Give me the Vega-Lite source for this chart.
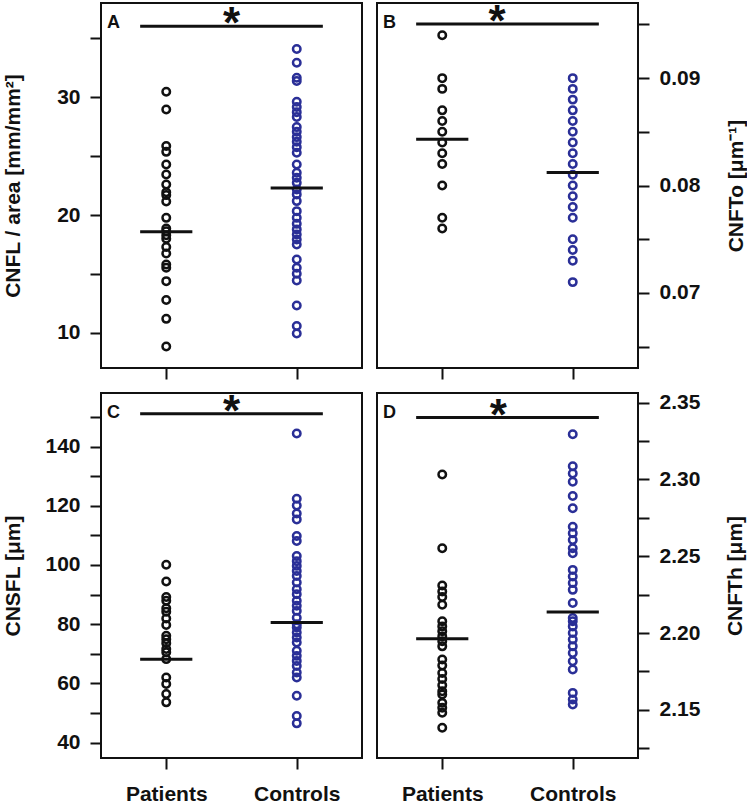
{
  "$schema": "https://vega.github.io/schema/vega-lite/v6.json",
  "background": "white",
  "padding": {"left": 1, "top": 0, "right": 0, "bottom": 0},
  "columns": 2,
  "spacing": {"row": 8, "column": 13},
  "datasets": {
    "points": [
      {"panel":"A","group":"Patients","x":1,"y":30.47},{"panel":"A","group":"Patients","x":1,"y":28.97},{"panel":"A","group":"Patients","x":1,"y":25.86},{"panel":"A","group":"Patients","x":1,"y":25.37},{"panel":"A","group":"Patients","x":1,"y":24.3},{"panel":"A","group":"Patients","x":1,"y":23.45},{"panel":"A","group":"Patients","x":1,"y":22.6},{"panel":"A","group":"Patients","x":1,"y":21.95},{"panel":"A","group":"Patients","x":1,"y":21.7},{"panel":"A","group":"Patients","x":1,"y":21.15},{"panel":"A","group":"Patients","x":1,"y":19.77},{"panel":"A","group":"Patients","x":1,"y":18.87},{"panel":"A","group":"Patients","x":1,"y":18.64},{"panel":"A","group":"Patients","x":1,"y":18.3},{"panel":"A","group":"Patients","x":1,"y":18.0},{"panel":"A","group":"Patients","x":1,"y":17.3},{"panel":"A","group":"Patients","x":1,"y":16.75},{"panel":"A","group":"Patients","x":1,"y":15.81},{"panel":"A","group":"Patients","x":1,"y":15.53},{"panel":"A","group":"Patients","x":1,"y":14.4},{"panel":"A","group":"Patients","x":1,"y":12.8},{"panel":"A","group":"Patients","x":1,"y":11.2},{"panel":"A","group":"Patients","x":1,"y":8.85},
      {"panel":"A","group":"Controls","x":2,"y":34.1},{"panel":"A","group":"Controls","x":2,"y":32.93},{"panel":"A","group":"Controls","x":2,"y":31.66},{"panel":"A","group":"Controls","x":2,"y":31.38},{"panel":"A","group":"Controls","x":2,"y":29.62},{"panel":"A","group":"Controls","x":2,"y":29.17},{"panel":"A","group":"Controls","x":2,"y":28.74},{"panel":"A","group":"Controls","x":2,"y":28.32},{"panel":"A","group":"Controls","x":2,"y":27.47},{"panel":"A","group":"Controls","x":2,"y":27.07},{"panel":"A","group":"Controls","x":2,"y":26.62},{"panel":"A","group":"Controls","x":2,"y":26.22},{"panel":"A","group":"Controls","x":2,"y":25.77},{"panel":"A","group":"Controls","x":2,"y":25.29},{"panel":"A","group":"Controls","x":2,"y":24.3},{"panel":"A","group":"Controls","x":2,"y":23.59},{"panel":"A","group":"Controls","x":2,"y":23.17},{"panel":"A","group":"Controls","x":2,"y":22.74},{"panel":"A","group":"Controls","x":2,"y":22.18},{"panel":"A","group":"Controls","x":2,"y":21.76},{"panel":"A","group":"Controls","x":2,"y":21.19},{"panel":"A","group":"Controls","x":2,"y":20.34},{"panel":"A","group":"Controls","x":2,"y":19.77},{"panel":"A","group":"Controls","x":2,"y":19.26},{"panel":"A","group":"Controls","x":2,"y":18.79},{"panel":"A","group":"Controls","x":2,"y":18.36},{"panel":"A","group":"Controls","x":2,"y":17.94},{"panel":"A","group":"Controls","x":2,"y":17.51},{"panel":"A","group":"Controls","x":2,"y":16.24},{"panel":"A","group":"Controls","x":2,"y":15.53},{"panel":"A","group":"Controls","x":2,"y":15.02},{"panel":"A","group":"Controls","x":2,"y":14.46},{"panel":"A","group":"Controls","x":2,"y":12.33},{"panel":"A","group":"Controls","x":2,"y":10.6},{"panel":"A","group":"Controls","x":2,"y":9.95},
      {"panel":"B","group":"Patients","x":1,"y":0.094},{"panel":"B","group":"Patients","x":1,"y":0.09},{"panel":"B","group":"Patients","x":1,"y":0.089},{"panel":"B","group":"Patients","x":1,"y":0.087},{"panel":"B","group":"Patients","x":1,"y":0.086},{"panel":"B","group":"Patients","x":1,"y":0.085},{"panel":"B","group":"Patients","x":1,"y":0.084},{"panel":"B","group":"Patients","x":1,"y":0.083},{"panel":"B","group":"Patients","x":1,"y":0.082},{"panel":"B","group":"Patients","x":1,"y":0.08},{"panel":"B","group":"Patients","x":1,"y":0.077},{"panel":"B","group":"Patients","x":1,"y":0.076},
      {"panel":"B","group":"Controls","x":2,"y":0.09},{"panel":"B","group":"Controls","x":2,"y":0.089},{"panel":"B","group":"Controls","x":2,"y":0.088},{"panel":"B","group":"Controls","x":2,"y":0.087},{"panel":"B","group":"Controls","x":2,"y":0.086},{"panel":"B","group":"Controls","x":2,"y":0.085},{"panel":"B","group":"Controls","x":2,"y":0.084},{"panel":"B","group":"Controls","x":2,"y":0.083},{"panel":"B","group":"Controls","x":2,"y":0.082},{"panel":"B","group":"Controls","x":2,"y":0.081},{"panel":"B","group":"Controls","x":2,"y":0.08},{"panel":"B","group":"Controls","x":2,"y":0.079},{"panel":"B","group":"Controls","x":2,"y":0.078},{"panel":"B","group":"Controls","x":2,"y":0.077},{"panel":"B","group":"Controls","x":2,"y":0.075},{"panel":"B","group":"Controls","x":2,"y":0.074},{"panel":"B","group":"Controls","x":2,"y":0.073},{"panel":"B","group":"Controls","x":2,"y":0.071},
      {"panel":"C","group":"Patients","x":1,"y":100.1},{"panel":"C","group":"Patients","x":1,"y":94.4},{"panel":"C","group":"Patients","x":1,"y":89.2},{"panel":"C","group":"Patients","x":1,"y":87.9},{"panel":"C","group":"Patients","x":1,"y":85.4},{"panel":"C","group":"Patients","x":1,"y":84.2},{"panel":"C","group":"Patients","x":1,"y":81.9},{"panel":"C","group":"Patients","x":1,"y":79.7},{"panel":"C","group":"Patients","x":1,"y":76.1},{"panel":"C","group":"Patients","x":1,"y":74.9},{"panel":"C","group":"Patients","x":1,"y":73.6},{"panel":"C","group":"Patients","x":1,"y":71.6},{"panel":"C","group":"Patients","x":1,"y":70.5},{"panel":"C","group":"Patients","x":1,"y":68.2},{"panel":"C","group":"Patients","x":1,"y":62.0},{"panel":"C","group":"Patients","x":1,"y":59.8},{"panel":"C","group":"Patients","x":1,"y":56.4},{"panel":"C","group":"Patients","x":1,"y":53.6},
      {"panel":"C","group":"Controls","x":2,"y":144.4},{"panel":"C","group":"Controls","x":2,"y":122.4},{"panel":"C","group":"Controls","x":2,"y":120.1},{"panel":"C","group":"Controls","x":2,"y":117.4},{"panel":"C","group":"Controls","x":2,"y":115.4},{"panel":"C","group":"Controls","x":2,"y":109.8},{"panel":"C","group":"Controls","x":2,"y":108.1},{"panel":"C","group":"Controls","x":2,"y":103.0},{"panel":"C","group":"Controls","x":2,"y":101.3},{"panel":"C","group":"Controls","x":2,"y":99.7},{"panel":"C","group":"Controls","x":2,"y":98.0},{"panel":"C","group":"Controls","x":2,"y":96.3},{"panel":"C","group":"Controls","x":2,"y":94.1},{"panel":"C","group":"Controls","x":2,"y":91.8},{"panel":"C","group":"Controls","x":2,"y":90.1},{"panel":"C","group":"Controls","x":2,"y":87.9},{"panel":"C","group":"Controls","x":2,"y":86.2},{"panel":"C","group":"Controls","x":2,"y":84.5},{"panel":"C","group":"Controls","x":2,"y":82.2},{"panel":"C","group":"Controls","x":2,"y":80.0},{"panel":"C","group":"Controls","x":2,"y":78.9},{"panel":"C","group":"Controls","x":2,"y":77.2},{"panel":"C","group":"Controls","x":2,"y":75.5},{"panel":"C","group":"Controls","x":2,"y":73.8},{"panel":"C","group":"Controls","x":2,"y":71.0},{"panel":"C","group":"Controls","x":2,"y":69.3},{"panel":"C","group":"Controls","x":2,"y":67.6},{"panel":"C","group":"Controls","x":2,"y":65.9},{"panel":"C","group":"Controls","x":2,"y":63.7},{"panel":"C","group":"Controls","x":2,"y":62.0},{"panel":"C","group":"Controls","x":2,"y":55.8},{"panel":"C","group":"Controls","x":2,"y":49.0},{"panel":"C","group":"Controls","x":2,"y":46.5},
      {"panel":"D","group":"Patients","x":1,"y":2.3032},{"panel":"D","group":"Patients","x":1,"y":2.2552},{"panel":"D","group":"Patients","x":1,"y":2.2309},{"panel":"D","group":"Patients","x":1,"y":2.227},{"panel":"D","group":"Patients","x":1,"y":2.2234},{"panel":"D","group":"Patients","x":1,"y":2.2184},{"panel":"D","group":"Patients","x":1,"y":2.2076},{"panel":"D","group":"Patients","x":1,"y":2.2043},{"panel":"D","group":"Patients","x":1,"y":2.2011},{"panel":"D","group":"Patients","x":1,"y":2.1978},{"panel":"D","group":"Patients","x":1,"y":2.1946},{"panel":"D","group":"Patients","x":1,"y":2.1913},{"panel":"D","group":"Patients","x":1,"y":2.1827},{"panel":"D","group":"Patients","x":1,"y":2.1788},{"panel":"D","group":"Patients","x":1,"y":2.174},{"panel":"D","group":"Patients","x":1,"y":2.1701},{"panel":"D","group":"Patients","x":1,"y":2.166},{"panel":"D","group":"Patients","x":1,"y":2.1621},{"panel":"D","group":"Patients","x":1,"y":2.1599},{"panel":"D","group":"Patients","x":1,"y":2.1545},{"panel":"D","group":"Patients","x":1,"y":2.1513},{"panel":"D","group":"Patients","x":1,"y":2.1481},{"panel":"D","group":"Patients","x":1,"y":2.1383},
      {"panel":"D","group":"Controls","x":2,"y":2.3294},{"panel":"D","group":"Controls","x":2,"y":2.3086},{"panel":"D","group":"Controls","x":2,"y":2.3039},{"panel":"D","group":"Controls","x":2,"y":2.2985},{"panel":"D","group":"Controls","x":2,"y":2.2892},{"panel":"D","group":"Controls","x":2,"y":2.2812},{"panel":"D","group":"Controls","x":2,"y":2.2692},{"panel":"D","group":"Controls","x":2,"y":2.2649},{"panel":"D","group":"Controls","x":2,"y":2.2606},{"panel":"D","group":"Controls","x":2,"y":2.2552},{"panel":"D","group":"Controls","x":2,"y":2.2519},{"panel":"D","group":"Controls","x":2,"y":2.2411},{"panel":"D","group":"Controls","x":2,"y":2.2368},{"panel":"D","group":"Controls","x":2,"y":2.2325},{"panel":"D","group":"Controls","x":2,"y":2.2281},{"panel":"D","group":"Controls","x":2,"y":2.2195},{"panel":"D","group":"Controls","x":2,"y":2.2097},{"panel":"D","group":"Controls","x":2,"y":2.2076},{"panel":"D","group":"Controls","x":2,"y":2.2043},{"panel":"D","group":"Controls","x":2,"y":2.2},{"panel":"D","group":"Controls","x":2,"y":2.1957},{"panel":"D","group":"Controls","x":2,"y":2.1913},{"panel":"D","group":"Controls","x":2,"y":2.187},{"panel":"D","group":"Controls","x":2,"y":2.1816},{"panel":"D","group":"Controls","x":2,"y":2.1762},{"panel":"D","group":"Controls","x":2,"y":2.161},{"panel":"D","group":"Controls","x":2,"y":2.1567},{"panel":"D","group":"Controls","x":2,"y":2.1534}
    ],
    "medians": [
      {"panel":"A","group":"Patients","x":0.8,"x2":1.2,"y":18.6},{"panel":"A","group":"Controls","x":1.8,"x2":2.2,"y":22.3},
      {"panel":"B","group":"Patients","x":0.8,"x2":1.2,"y":0.0843},{"panel":"B","group":"Controls","x":1.8,"x2":2.2,"y":0.0812},
      {"panel":"C","group":"Patients","x":0.8,"x2":1.2,"y":68.2},{"panel":"C","group":"Controls","x":1.8,"x2":2.2,"y":80.6},
      {"panel":"D","group":"Patients","x":0.8,"x2":1.2,"y":2.1963},{"panel":"D","group":"Controls","x":1.8,"x2":2.2,"y":2.2136}
    ],
    "sig": [
      {"panel":"A","x":0.8,"x2":2.2,"y":36.03},
      {"panel":"B","x":0.8,"x2":2.2,"y":0.09504},
      {"panel":"C","x":0.8,"x2":2.2,"y":151.1},
      {"panel":"D","x":0.8,"x2":2.2,"y":2.3403}
    ],
    "stars": [
      {"panel":"A","x":1.5,"y":36.03,"label":"*"},
      {"panel":"B","x":1.42,"y":0.09504,"label":"*"},
      {"panel":"C","x":1.5,"y":151.1,"label":"*"},
      {"panel":"D","x":1.43,"y":2.3403,"label":"*"}
    ],
    "letters": [
      {"panel":"A","label":"A","x":0.5,"y":38.0},
      {"panel":"B","label":"B","x":0.5,"y":0.0970},
      {"panel":"C","label":"C","x":0.5,"y":158.1},
      {"panel":"D","label":"D","x":0.5,"y":2.3563}
    ]
  },
  "concat": [
    {
      "width": 261, "height": 365,
      "encoding": {
        "x": {"field":"x","type":"quantitative","scale":{"domain":[0.5,2.5],"nice":false,"zero":false},"axis":{"values":[1,2],"labels":false,"title":null}},
        "y": {"field":"y","type":"quantitative","scale":{"domain":[7.03,38.0],"nice":false,"zero":false},"axis":{"orient":"left","values":[10,15,20,25,30,35],"labelExpr":"datum.value % 10 == 0 ? datum.label : ''","title":"CNFL / area [mm/mm²]","titleX":-88,"titleAngle":270,"titleBaseline":"middle"}}
      },
      "layer": [
        {"data":{"name":"points"},"transform":[{"filter":"datum.panel == 'A'"}],"mark":{"type":"point","shape":"circle","size":56,"strokeWidth":2.5,"opacity":1,"filled":false},"encoding":{"color":{"field":"group","type":"nominal","scale":{"domain":["Patients","Controls"],"range":["#111111","#2a2f97"]},"legend":null}}},
        {"data":{"name":"medians"},"transform":[{"filter":"datum.panel == 'A'"}],"mark":{"type":"rule","strokeWidth":3,"color":"#111111"},"encoding":{"x2":{"field":"x2"}}},
        {"data":{"name":"sig"},"transform":[{"filter":"datum.panel == 'A'"}],"mark":{"type":"rule","strokeWidth":3,"color":"#111111"},"encoding":{"x2":{"field":"x2"}}},
        {"data":{"name":"stars"},"transform":[{"filter":"datum.panel == 'A'"}],"mark":{"type":"text","fontSize":44,"fontWeight":"bold","baseline":"alphabetic","dy":12,"color":"#111111"},"encoding":{"text":{"field":"label"}}},
        {"data":{"name":"letters"},"transform":[{"filter":"datum.panel == 'A'"}],"mark":{"type":"text","fontSize":18,"fontWeight":"bold","align":"left","baseline":"top","dx":6,"dy":11,"color":"#111111"},"encoding":{"text":{"field":"label"}}}
      ]
    },
    {
      "width": 261, "height": 365,
      "encoding": {
        "x": {"field":"x","type":"quantitative","scale":{"domain":[0.5,2.5],"nice":false,"zero":false},"axis":{"values":[1,2],"labels":false,"title":null}},
        "y": {"field":"y","type":"quantitative","scale":{"domain":[0.0630,0.0970],"nice":false,"zero":false},"axis":{"orient":"right","values":[0.065,0.07,0.075,0.08,0.085,0.09,0.095],"labelExpr":"round(datum.value*1000) % 10 == 0 ? format(datum.value, '.2f') : ''","title":"CNFTo [μm⁻¹]","titleX":98,"titleAngle":270,"titleBaseline":"middle"}}
      },
      "layer": [
        {"data":{"name":"points"},"transform":[{"filter":"datum.panel == 'B'"}],"mark":{"type":"point","shape":"circle","size":56,"strokeWidth":2.5,"opacity":1,"filled":false},"encoding":{"color":{"field":"group","type":"nominal","scale":{"domain":["Patients","Controls"],"range":["#111111","#2a2f97"]},"legend":null}}},
        {"data":{"name":"medians"},"transform":[{"filter":"datum.panel == 'B'"}],"mark":{"type":"rule","strokeWidth":3,"color":"#111111"},"encoding":{"x2":{"field":"x2"}}},
        {"data":{"name":"sig"},"transform":[{"filter":"datum.panel == 'B'"}],"mark":{"type":"rule","strokeWidth":3,"color":"#111111"},"encoding":{"x2":{"field":"x2"}}},
        {"data":{"name":"stars"},"transform":[{"filter":"datum.panel == 'B'"}],"mark":{"type":"text","fontSize":44,"fontWeight":"bold","baseline":"alphabetic","dy":12,"color":"#111111"},"encoding":{"text":{"field":"label"}}},
        {"data":{"name":"letters"},"transform":[{"filter":"datum.panel == 'B'"}],"mark":{"type":"text","fontSize":18,"fontWeight":"bold","align":"left","baseline":"top","dx":6,"dy":11,"color":"#111111"},"encoding":{"text":{"field":"label"}}}
      ]
    },
    {
      "width": 261, "height": 365,
      "encoding": {
        "x": {"field":"x","type":"quantitative","scale":{"domain":[0.5,2.5],"nice":false,"zero":false},"axis":{"values":[1,2],"labels":true,"labelExpr":"datum.value == 1 ? 'Patients' : 'Controls'","labelFontSize":21,"labelPadding":14,"title":null}},
        "y": {"field":"y","type":"quantitative","scale":{"domain":[34.8,158.1],"nice":false,"zero":false},"axis":{"orient":"left","values":[40,50,60,70,80,90,100,110,120,130,140,150],"labelExpr":"datum.value % 20 == 0 ? datum.label : ''","title":"CNSFL [μm]","titleX":-88,"titleAngle":270,"titleBaseline":"middle"}}
      },
      "layer": [
        {"data":{"name":"points"},"transform":[{"filter":"datum.panel == 'C'"}],"mark":{"type":"point","shape":"circle","size":56,"strokeWidth":2.5,"opacity":1,"filled":false},"encoding":{"color":{"field":"group","type":"nominal","scale":{"domain":["Patients","Controls"],"range":["#111111","#2a2f97"]},"legend":null}}},
        {"data":{"name":"medians"},"transform":[{"filter":"datum.panel == 'C'"}],"mark":{"type":"rule","strokeWidth":3,"color":"#111111"},"encoding":{"x2":{"field":"x2"}}},
        {"data":{"name":"sig"},"transform":[{"filter":"datum.panel == 'C'"}],"mark":{"type":"rule","strokeWidth":3,"color":"#111111"},"encoding":{"x2":{"field":"x2"}}},
        {"data":{"name":"stars"},"transform":[{"filter":"datum.panel == 'C'"}],"mark":{"type":"text","fontSize":44,"fontWeight":"bold","baseline":"alphabetic","dy":12,"color":"#111111"},"encoding":{"text":{"field":"label"}}},
        {"data":{"name":"letters"},"transform":[{"filter":"datum.panel == 'C'"}],"mark":{"type":"text","fontSize":18,"fontWeight":"bold","align":"left","baseline":"top","dx":6,"dy":11,"color":"#111111"},"encoding":{"text":{"field":"label"}}}
      ]
    },
    {
      "width": 261, "height": 365,
      "encoding": {
        "x": {"field":"x","type":"quantitative","scale":{"domain":[0.5,2.5],"nice":false,"zero":false},"axis":{"values":[1,2],"labels":true,"labelExpr":"datum.value == 1 ? 'Patients' : 'Controls'","labelFontSize":21,"labelPadding":14,"title":null}},
        "y": {"field":"y","type":"quantitative","scale":{"domain":[2.1186,2.3563],"nice":false,"zero":false},"axis":{"orient":"right","values":[2.125,2.15,2.175,2.2,2.225,2.25,2.275,2.3,2.325,2.35],"labelExpr":"round(datum.value*1000) % 50 == 0 ? format(datum.value, '.2f') : ''","title":"CNFTh [μm]","titleX":97,"titleAngle":270,"titleBaseline":"middle"}}
      },
      "layer": [
        {"data":{"name":"points"},"transform":[{"filter":"datum.panel == 'D'"}],"mark":{"type":"point","shape":"circle","size":56,"strokeWidth":2.5,"opacity":1,"filled":false},"encoding":{"color":{"field":"group","type":"nominal","scale":{"domain":["Patients","Controls"],"range":["#111111","#2a2f97"]},"legend":null}}},
        {"data":{"name":"medians"},"transform":[{"filter":"datum.panel == 'D'"}],"mark":{"type":"rule","strokeWidth":3,"color":"#111111"},"encoding":{"x2":{"field":"x2"}}},
        {"data":{"name":"sig"},"transform":[{"filter":"datum.panel == 'D'"}],"mark":{"type":"rule","strokeWidth":3,"color":"#111111"},"encoding":{"x2":{"field":"x2"}}},
        {"data":{"name":"stars"},"transform":[{"filter":"datum.panel == 'D'"}],"mark":{"type":"text","fontSize":44,"fontWeight":"bold","baseline":"alphabetic","dy":12,"color":"#111111"},"encoding":{"text":{"field":"label"}}},
        {"data":{"name":"letters"},"transform":[{"filter":"datum.panel == 'D'"}],"mark":{"type":"text","fontSize":18,"fontWeight":"bold","align":"left","baseline":"top","dx":6,"dy":11,"color":"#111111"},"encoding":{"text":{"field":"label"}}}
      ]
    }
  ],
  "config": {
    "font": "Liberation Sans",
    "view": {"stroke": "#111111", "strokeWidth": 2},
    "axis": {
      "domain": false, "grid": false, "ticks": true, "tickSize": 11, "tickWidth": 2, "tickColor": "#111111",
      "labelFont": "Liberation Sans", "labelFontWeight": "bold", "labelFontSize": 21, "labelColor": "#111111",
      "labelPadding": 10, "labelOverlap": false, "labelFlush": false,
      "titleFont": "Liberation Sans", "titleFontWeight": "bold", "titleFontSize": 21, "titleColor": "#111111"
    },
    "text": {"font": "Liberation Sans"}
  }
}
